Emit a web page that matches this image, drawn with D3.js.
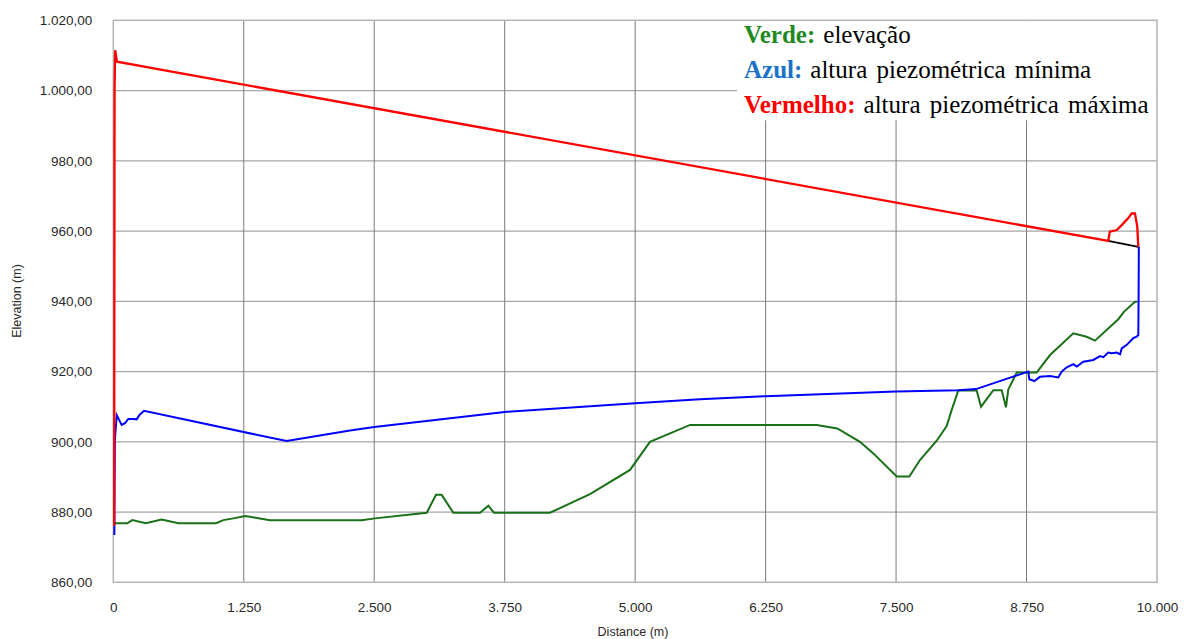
<!DOCTYPE html>
<style>
    body { margin: 0; background: #fff; }
    text { font-family: "Liberation Sans", Arial, sans-serif; }
    .tick text { font-size: 13.5px; fill: #2a2a2a; }
    .legend text { font-family: "Liberation Serif", "Times New Roman", serif; font-size: 25px; }
</style>

<svg width="1185" height="639"></svg>

<script src="https://d3js.org/d3.v7.min.js"></script>
<script>

// distances (m) and heights (m)
var elevDist = [10, 134, 182, 310, 464, 623, 984, 1054, 1150, 1262, 1501, 2380, 2507, 3003, 3092, 3146, 3258, 3514, 3593, 3648, 4184, 4567, 4951, 5142, 5527, 6739, 6937, 7154, 7282, 7506, 7627, 7729, 7889, 7985, 8033, 8096, 8272, 8314, 8432, 8512, 8553, 8575, 8656, 8751, 8847, 8975, 9198, 9326, 9406, 9629, 9683, 9789, 9811];
var elevVal  = [876.8, 876.8, 877.7, 876.8, 877.9, 876.8, 876.8, 877.7, 878.2, 878.9, 877.7, 877.7, 878.2, 879.8, 884.9, 884.9, 879.8, 879.8, 881.8, 879.8, 879.8, 885.1, 892, 900, 904.8, 904.8, 903.8, 900, 896.7, 890.1, 890.1, 894.8, 900.3, 904.5, 909.1, 914.6, 914.6, 910, 914.7, 914.7, 909.8, 914.9, 919.7, 919.7, 919.7, 924.7, 930.9, 929.9, 928.8, 934.9, 937, 939.9, 939.9];

var minDist = [10, 15, 33, 80, 112, 144, 192, 224, 249, 294, 1661, 2268, 2500, 3750, 5000, 5621, 6250, 7500, 8096, 8266, 8767, 8777, 8824, 8879, 8975, 9054, 9087, 9135, 9198, 9231, 9294, 9390, 9454, 9486, 9533, 9566, 9614, 9646, 9662, 9710, 9773, 9805, 9821, 9824, 9826];
var minVal  = [873.5, 900.5, 907.6, 904.8, 905.3, 906.5, 906.5, 906.4, 907.6, 908.8, 900.2, 903.2, 904.2, 908.5, 911, 912.1, 913, 914.3, 914.7, 915, 920, 917.8, 917.3, 918.5, 918.7, 918.3, 920, 921.2, 922.1, 921.4, 922.8, 923.3, 924.4, 924.1, 925.4, 925.2, 925.4, 924.9, 926.6, 927.6, 929.5, 929.9, 930.4, 942.7, 955.5];

var maxDist = [8, 12, 18, 35, 9533, 9548, 9614, 9662, 9725, 9757, 9789, 9811, 9821];
var maxVal  = [876, 1000, 1011.5, 1008.2, 957.2, 959.8, 960.3, 961.7, 963.7, 965, 965, 961.2, 955.5];

var endDist = [9533, 9821];
var endVal  = [957.2, 955.5];

var xTicks = [0, 1250, 2500, 3750, 5000, 6250, 7500, 8750, 10000];
var yTicks = [860, 880, 900, 920, 940, 960, 980, 1000, 1020];

var legendKeys   = ["Verde:", "Azul:", "Vermelho:"];
var legendTexts  = ["elevação", "altura piezométrica mínima", "altura piezométrica máxima"];
var legendColors = ["#1f8a1f", "#1a72c8", "#ff0000"];

var svg = d3.select("svg");

var pLeft = 113.3, pRight = 1157, pTop = 20.3, pBottom = 582.3;

var x = d3.scaleLinear().domain([0, 10000]).range([pLeft, pRight]);
var y = d3.scaleLinear().domain([860, 1020]).range([pBottom, pTop]);

var pt = d3.formatLocale({decimal: ",", thousands: ".", grouping: [3], currency: ["R$", ""]});

// grid
svg.append("g")
    .selectAll("line")
    .data(yTicks.slice(1, -1))
    .enter().append("line")
    .attr("x1", pLeft).attr("x2", pRight)
    .attr("y1", function(d) { return y(d); })
    .attr("y2", function(d) { return y(d); })
    .attr("stroke", "#a6a6a6")
    .attr("stroke-width", 1.3);

svg.append("g")
    .selectAll("line")
    .data(xTicks.slice(1, -1))
    .enter().append("line")
    .attr("x1", function(d) { return x(d); })
    .attr("x2", function(d) { return x(d); })
    .attr("y1", pTop).attr("y2", pBottom)
    .attr("stroke", "#7a7a7a")
    .attr("stroke-width", 1);

// frame
svg.append("rect")
    .attr("x", pLeft).attr("y", pTop)
    .attr("width", pRight - pLeft).attr("height", pBottom - pTop)
    .attr("fill", "none")
    .attr("stroke", "#b4b4b4")
    .attr("stroke-width", 1.5);

// axes
var xAxis = svg.append("g")
    .attr("transform", "translate(0," + pBottom + ")")
    .call(d3.axisBottom(x).tickValues(xTicks).tickSize(0).tickPadding(20).tickFormat(pt.format(",d")));
xAxis.select(".domain").remove();

var yAxis = svg.append("g")
    .attr("transform", "translate(" + pLeft + ",0)")
    .call(d3.axisLeft(y).tickValues(yTicks).tickSize(0).tickPadding(21).tickFormat(pt.format(",.2f")));
yAxis.select(".domain").remove();

svg.append("text")
    .attr("x", 633).attr("y", 636)
    .attr("text-anchor", "middle")
    .attr("font-size", 12.5)
    .attr("fill", "#2a2a2a")
    .text("Distance (m)");

svg.append("text")
    .attr("transform", "translate(21,301) rotate(-90)")
    .attr("text-anchor", "middle")
    .attr("font-size", 12.5)
    .attr("fill", "#2a2a2a")
    .text("Elevation (m)");

// legend box
var lg = svg.append("g").attr("class", "legend");
lg.append("rect")
    .attr("x", 737).attr("y", pTop + 1)
    .attr("width", pRight - 737 - 1).attr("height", 99)
    .attr("fill", "#fff");

legendKeys.forEach(function(k, i) {
    var t = lg.append("text")
        .attr("x", 744)
        .attr("y", 43 + i * 35)
        .attr("word-spacing", 3);
    t.append("tspan")
        .attr("font-weight", "bold")
        .attr("fill", legendColors[i])
        .text(k);
    t.append("tspan")
        .attr("dx", 8)
        .attr("fill", "#000")
        .text(legendTexts[i]);
});

// lines
var line = d3.line()
    .x(function(d) { return x(d[0]); })
    .y(function(d) { return y(d[1]); });

function series(dist, val) {
    return dist.map(function(d, i) { return [d, val[i]]; });
}

svg.append("path")
    .attr("d", line(series(elevDist, elevVal)))
    .attr("fill", "none")
    .attr("stroke", "#1a7018")
    .attr("stroke-width", 2);

svg.append("path")
    .attr("d", line(series(minDist, minVal)))
    .attr("fill", "none")
    .attr("stroke", "#0000ff")
    .attr("stroke-width", 2);

svg.append("path")
    .attr("d", line(series(endDist, endVal)))
    .attr("fill", "none")
    .attr("stroke", "#000")
    .attr("stroke-width", 2);

svg.append("path")
    .attr("d", line(series(maxDist, maxVal)))
    .attr("fill", "none")
    .attr("stroke", "#ff0000")
    .attr("stroke-width", 2.3);

</script>
